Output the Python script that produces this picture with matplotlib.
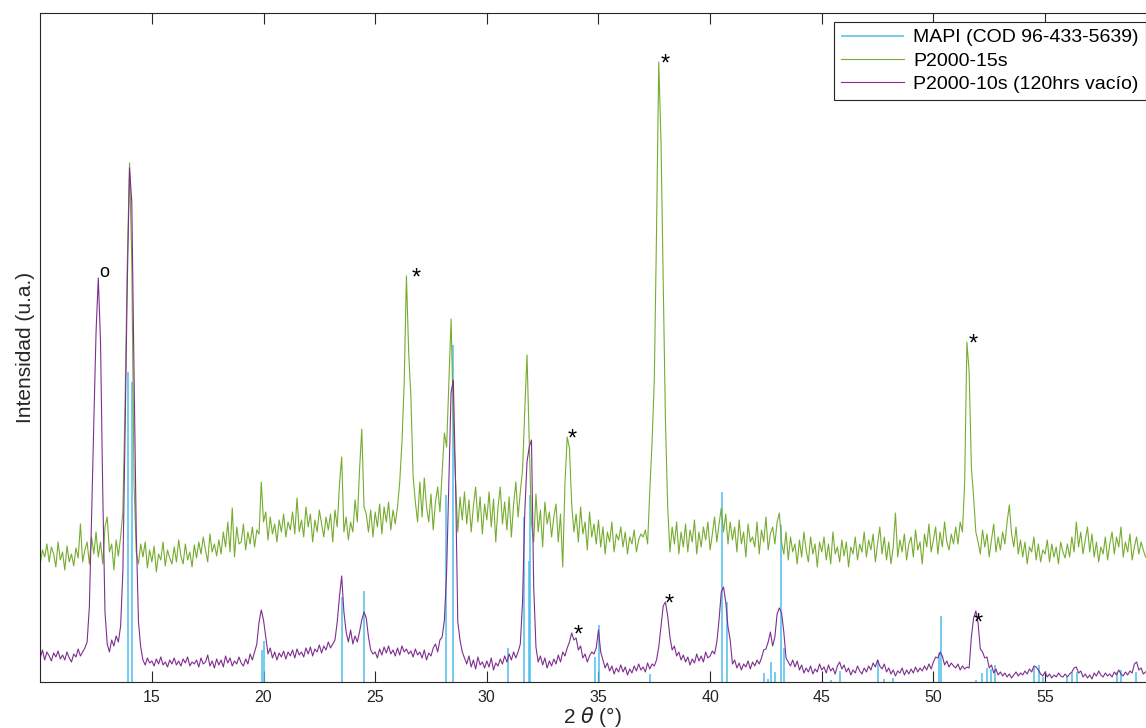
import numpy as np
import matplotlib.pyplot as plt

plt.rcParams['font.family'] = ['Liberation Sans', 'DejaVu Sans']

# 2-theta grid of the measured patterns (0.1 deg step)
two_theta = np.round(np.arange(10.0, 59.55, 0.1), 1)

# P2000-10s (120hrs vacio), one row per degree
p10s_rows = [
    [24, 32, 22, 30, 26, 21, 29, 25, 31, 23],
    [27, 22, 30, 24, 20, 28, 25, 33, 26, 30],
    [34, 40, 75, 165, 260, 350, 404, 340, 190, 70],
    [38, 30, 42, 36, 46, 40, 56, 110, 250, 400],
    [514, 480, 310, 150, 60, 35, 22, 17, 24, 19],
    [21, 16, 23, 18, 25, 17, 20, 15, 22, 18],
    [24, 17, 21, 16, 23, 19, 25, 16, 20, 18],
    [22, 15, 24, 18, 20, 27, 16, 21, 14, 23],
    [17, 22, 15, 26, 19, 24, 16, 21, 18, 25],
    [19, 16, 23, 18, 28, 22, 30, 38, 60, 72],
    [62, 45, 28, 34, 24, 30, 22, 29, 25, 31],
    [23, 30, 26, 32, 24, 33, 27, 30, 25, 34],
    [28, 35, 26, 33, 30, 37, 29, 36, 32, 40],
    [34, 38, 42, 60, 85, 106, 70, 50, 40, 52],
    [38, 46, 40, 50, 62, 70, 64, 45, 32, 28],
    [30, 24, 33, 27, 35, 29, 36, 28, 32, 26],
    [34, 27, 36, 30, 33, 28, 31, 25, 33, 27],
    [30, 24, 32, 22, 29, 26, 34, 38, 30, 42],
    [45, 62, 110, 200, 290, 302, 200, 60, 42, 30],
    [24, 18, 26, 15, 22, 13, 25, 17, 20, 14],
    [21, 15, 24, 12, 19, 16, 23, 18, 26, 20],
    [28, 22, 30, 24, 30, 38, 80, 170, 220, 235],
    [242, 95, 35, 20, 26, 17, 24, 14, 21, 16],
    [23, 18, 27, 20, 30, 26, 34, 40, 49, 42],
    [44, 32, 36, 24, 28, 20, 26, 30, 28, 34],
    [52, 30, 22, 14, 19, 11, 16, 8, 14, 10],
    [17, 10, 15, 7, 13, 9, 16, 11, 18, 12],
    [15, 10, 19, 13, 18, 16, 22, 35, 55, 76],
    [80, 66, 45, 32, 36, 26, 30, 22, 27, 20],
    [25, 17, 23, 19, 28, 21, 26, 20, 30, 24],
    [26, 31, 28, 40, 62, 90, 95, 80, 55, 42],
    [18, 22, 14, 19, 12, 18, 15, 21, 13, 20],
    [16, 22, 18, 24, 32, 33, 40, 50, 36, 45],
    [68, 74, 69, 50, 24, 20, 16, 22, 15, 21],
    [12, 17, 9, 14, 10, 16, 8, 13, 10, 18],
    [12, 15, 9, 17, 11, 14, 8, 16, 20, 13],
    [17, 10, 14, 7, 12, 9, 16, 11, 8, 14],
    [10, 16, 12, 19, 15, 22, 16, 13, 18, 10],
    [14, 8, 12, 6, 11, 9, 14, 7, 12, 8],
    [13, 9, 15, 10, 14, 11, 16, 12, 18, 13],
    [20, 25, 24, 30, 26, 17, 21, 15, 19, 16],
    [14, 18, 12, 16, 13, 15, 14, 45, 64, 71],
    [59, 33, 30, 24, 25, 14, 17, 9, 13, 7],
    [10, 6, 9, 5, 8, 4, 7, 10, 6, 9],
    [7, 11, 8, 13, 10, 16, 15, 12, 8, 6],
    [10, 5, 8, 4, 7, 5, 9, 6, 5, 8],
    [5, 8, 10, 14, 15, 9, 11, 5, 8, 4],
    [7, 3, 9, 6, 11, 7, 5, 9, 6, 8],
    [5, 10, 7, 12, 8, 6, 10, 7, 11, 9],
    [18, 20, 12, 14, 8, 10],
]

# P2000-15s
p15s_rows = [
    [118, 132, 125, 138, 120, 135, 128, 115, 140, 122],
    [130, 112, 136, 120, 128, 116, 134, 124, 158, 120],
    [132, 140, 118, 145, 128, 150, 125, 140, 118, 155],
    [165, 130, 138, 112, 142, 126, 145, 170, 280, 420],
    [519, 420, 200, 130, 118, 138, 125, 140, 114, 132],
    [120, 136, 110, 128, 122, 140, 116, 132, 124, 118],
    [135, 120, 142, 126, 118, 138, 122, 130, 115, 137],
    [124, 140, 128, 145, 132, 120, 148, 130, 138, 126],
    [142, 128, 150, 135, 160, 130, 174, 125, 155, 138],
    [140, 158, 132, 150, 138, 155, 135, 152, 148, 200],
    [160, 170, 142, 165, 148, 158, 140, 162, 150, 168],
    [145, 160, 152, 170, 148, 184, 150, 162, 145, 175],
    [155, 168, 140, 162, 150, 172, 158, 145, 165, 152],
    [168, 140, 172, 155, 197, 225, 150, 165, 142, 160],
    [150, 182, 160, 212, 253, 175, 168, 150, 172, 145],
    [170, 155, 178, 148, 175, 160, 180, 152, 172, 158],
    [175, 200, 240, 300, 406, 330, 285, 205, 180, 160],
    [200, 165, 204, 175, 160, 188, 152, 180, 195, 170],
    [210, 249, 235, 300, 363, 260, 200, 150, 185, 162],
    [190, 158, 182, 150, 176, 195, 160, 185, 148, 178],
    [162, 190, 155, 183, 140, 175, 195, 158, 180, 152],
    [185, 145, 178, 200, 165, 190, 212, 272, 327, 240],
    [159, 140, 188, 150, 172, 135, 180, 158, 170, 145],
    [165, 178, 140, 168, 115, 199, 245, 234, 178, 150],
    [168, 140, 175, 148, 160, 132, 170, 145, 158, 138],
    [162, 135, 155, 128, 150, 140, 160, 130, 148, 142],
    [155, 135, 150, 128, 145, 138, 152, 130, 142, 148],
    [145, 152, 138, 192, 240, 302, 450, 620, 540, 400],
    [260, 175, 130, 155, 138, 160, 128, 150, 135, 158],
    [130, 152, 140, 162, 128, 150, 135, 155, 142, 160],
    [132, 148, 165, 140, 158, 174, 150, 168, 138, 160],
    [142, 155, 130, 162, 138, 150, 125, 158, 140, 145],
    [135, 160, 128, 152, 140, 165, 132, 148, 155, 138],
    [160, 169, 140, 128, 150, 122, 145, 130, 138, 118],
    [142, 125, 150, 132, 120, 145, 128, 138, 115, 140],
    [130, 145, 122, 138, 118, 150, 128, 135, 120, 142],
    [126, 140, 115, 135, 128, 145, 122, 138, 130, 150],
    [125, 142, 132, 148, 120, 138, 155, 128, 145, 122],
    [140, 118, 135, 169, 125, 142, 130, 148, 122, 138],
    [145, 125, 152, 132, 140, 118, 148, 135, 158, 130],
    [142, 155, 128, 150, 135, 160, 140, 132, 148, 138],
    [155, 138, 160, 150, 200, 340, 310, 215, 185, 150],
    [140, 128, 152, 135, 148, 125, 142, 158, 130, 145],
    [132, 150, 138, 160, 177, 148, 135, 155, 128, 142],
    [125, 140, 118, 135, 130, 145, 122, 138, 120, 132],
    [128, 142, 120, 138, 125, 135, 118, 140, 130, 124],
    [138, 125, 145, 130, 160, 135, 150, 128, 142, 155],
    [130, 148, 125, 140, 120, 135, 128, 145, 122, 138],
    [150, 128, 145, 135, 155, 125, 140, 130, 148, 122],
    [135, 145, 128, 140, 132, 125],
]

p10s = np.concatenate(p10s_rows)
p15s = np.concatenate(p15s_rows)

# MAPI reference (COD 96-433-5639) stick pattern
mapi_pos = [13.93, 14.10, 19.92, 20.01, 23.50, 24.51, 28.19, 28.50, 30.96,
            31.68, 31.88, 31.95, 34.85, 35.04, 37.31, 40.55, 40.76, 42.40,
            42.61, 42.73, 42.92, 43.16, 43.32, 45.40, 45.81, 47.53, 47.80,
            48.19, 50.25, 50.34, 51.91, 52.18, 52.39, 52.58, 52.76, 54.50,
            54.71, 54.89, 55.97, 56.21, 56.42, 58.21, 58.39, 59.06]
mapi_int = [310, 300, 32, 41, 85, 91, 187, 337, 34,
            165, 121, 187, 25, 57, 8, 190, 80, 9,
            3, 20, 10, 157, 34, 2, 11, 22, 3,
            4, 29, 66, 2, 9, 14, 13, 17, 15,
            17, 5, 5, 10, 10, 10, 12, 10]

# peak markers
mark_x = [12.86, 26.83, 33.81, 37.98, 51.77, 34.08, 38.16, 52.0]
mark_y = [409, 410, 249, 624, 344, 53, 84, 65]
mark_s = ['o', '*', '*', '*', '*', '*', '*', '*']

c_mapi = '#4DBEEE'
c_15s = '#77AC30'
c_10s = '#7E2F8E'
axcol = '#262626'

fig = plt.figure(figsize=(11.46, 7.28), dpi=100)
ax = fig.add_axes([0.0351, 0.0632, 0.9645, 0.919])

ax.vlines(mapi_pos, 0, mapi_int, color=c_mapi, lw=1.1, label='MAPI (COD 96-433-5639)')
ax.plot(two_theta, p15s, color=c_15s, lw=0.8, label='P2000-15s')
ax.plot(two_theta, p10s, color=c_10s, lw=0.8, label='P2000-10s (120hrs vacío)')

for x, y, s in zip(mark_x, mark_y, mark_s):
    if s == '*':
        ax.text(x, y - 7, s, ha='center', va='center', fontsize=17, color='black')
    else:
        ax.text(x, y, s, ha='center', va='center', fontsize=13, color='black')

ax.set_xlim(10, 59.5)
ax.set_ylim(0, 669)
ax.set_xticks([15, 20, 25, 30, 35, 40, 45, 50, 55])
ax.set_yticks([])
ax.tick_params(axis='x', direction='in', top=True, length=8, width=0.8,
               color=axcol, labelsize=11.5, labelcolor=axcol, pad=6)
for side in ['left', 'bottom', 'top']:
    ax.spines[side].set_color(axcol)
    ax.spines[side].set_linewidth(0.8)
ax.spines['right'].set_visible(False)

ax.set_xlabel(r'2 $\theta$ (°)', fontsize=15, color=axcol, labelpad=0)
ax.set_ylabel('Intensidad (u.a.)', fontsize=15, color=axcol, labelpad=4)

leg = ax.legend(loc='upper right', bbox_to_anchor=(1.0, 0.9865), borderaxespad=0,
                fontsize=14, frameon=True, fancybox=False, framealpha=1,
                handlelength=3.2, handletextpad=0.5, labelspacing=0.3,
                borderpad=0.35)
leg.get_frame().set_edgecolor(axcol)
leg.get_frame().set_linewidth(0.8)

plt.savefig('out.png', dpi=100)
